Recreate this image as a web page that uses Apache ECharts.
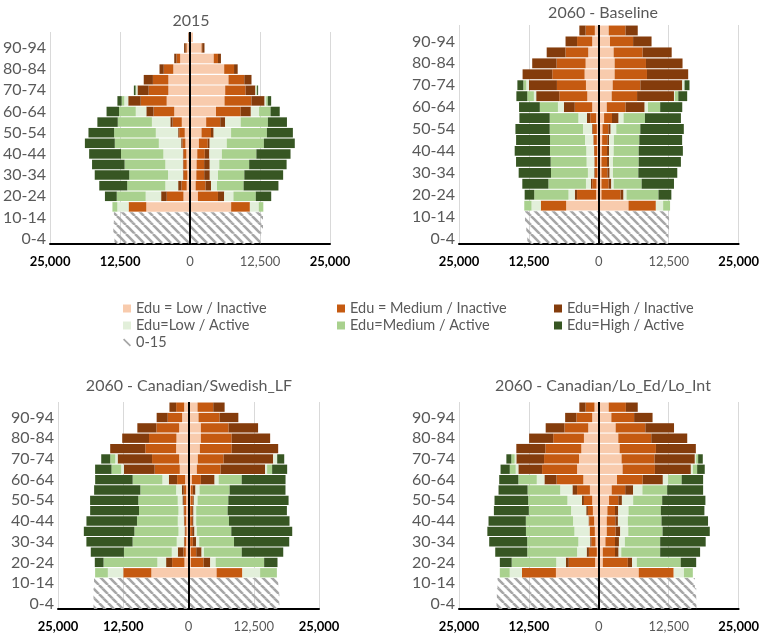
<!DOCTYPE html>
<html><head><meta charset="utf-8">
<script src="https://cdn.jsdelivr.net/npm/echarts@6/dist/echarts.min.js"></script>
<style>html,body{margin:0;padding:0;background:#fff}#c{width:762px;height:636px}</style>
</head><body><div id="c"></div>
<script>
// ---------- categories / labels ----------
const ages = ['0-4','5-9','10-14','15-19','20-24','25-29','30-34','35-39','40-44','45-49','50-54','55-59','60-64','65-69','70-74','75-79','80-84','85-89','90-94','95-99'];
const seriesNames = ['Edu = Low / Inactive','Edu = Medium / Inactive','Edu=High / Inactive','Edu=Low / Active','Edu=Medium / Active','Edu=High / Active'];
const hatchName = '0-15';
const titles = ['2015','2060 - Baseline','2060 - Canadian/Swedish_LF','2060 - Canadian/Lo_Ed/Lo_Int'];
const xTicks = [-25000,-12500,0,12500,25000];

// ---------- values: ages 15-19 ... 95-99 (L = left side, R = right side) ----------
// 2015
const p15_L_lowIn  = [7810,1170,590,470,590,650,820,940,1470,2820,4170,3870,3870,2990,1760,590,180];
const p15_L_medIn  = [3170,2990,940,700,590,530,530,1000,1640,3700,4640,3520,2760,1700,650,180,60];
const p15_L_highIn = [0,1000,590,120,120,120,230,180,410,1290,2230,2000,1640,760,410,290,60];
const p15_L_lowAc  = [2000,2760,2290,2640,3110,3460,3990,3990,3290,1880,700,230,0,0,0,0,0];
const p15_L_medAc  = [880,5170,6810,6930,7280,7570,7870,7450,6100,2990,470,120,0,0,0,0,0];
const p15_L_highAc = [0,2110,4990,6160,5810,5690,5340,4580,3640,2230,760,290,0,0,0,0,0];
const p15_R_lowIn  = [7340,1410,1000,1120,1170,1290,1580,2050,2880,4640,6160,6280,6870,6100,4230,2050,530];
const p15_R_medIn  = [3350,3580,1760,1410,1350,1350,1580,1700,2520,4400,4810,3640,2820,1760,760,120,0];
const p15_R_highIn = [0,1120,1000,1000,1000,820,350,470,880,1820,2350,1760,1290,650,530,410,0];
const p15_R_lowAc  = [1580,1640,1060,1470,1700,2230,3050,3110,2760,1470,290,180,0,0,0,0,0];
const p15_R_medAc  = [820,3990,4750,4700,5340,6160,6630,6400,4870,2050,290,120,0,0,0,0,0];
const p15_R_highAc = [0,2760,6220,6930,6690,6100,5520,4640,3400,1640,590,180,0,0,0,0,0];
const p15_L_u15 = [13500,13700,13600];
const p15_R_u15 = [12620,13030,13030];
// 2060 - Baseline
const pB_L_lowIn  = [5840,470,410,240,290,290,350,350,470,1180,2060,2300,2540,2360,1890,1180,710];
const pB_L_medIn  = [4540,3420,770,470,470,530,590,770,1060,3120,5010,5190,5780,5190,4070,2710,1650];
const pB_L_highIn = [0,410,240,120,60,60,60,120,590,1950,4130,5010,5310,4360,3360,2060,1120];
const pB_L_lowAc  = [1650,1120,880,1120,1360,1360,1470,1590,1530,1060,410,470,0,0,0,0,0];
const pB_L_medAc  = [1300,6130,6720,6600,6430,6490,6250,5950,5130,3240,1180,530,0,0,0,0,0];
const pB_L_highAc = [0,1710,4660,5780,6190,6310,6070,6130,5420,3710,1950,1060,0,0,0,0,0];
const pB_R_lowIn  = [5310,470,470,470,470,530,590,650,940,1420,2300,2480,2830,2830,2650,2000,1770];
const pB_R_medIn  = [4890,3420,1300,1060,1000,940,940,1060,1420,3360,4540,4950,5780,5600,5190,4130,3010];
const pB_R_highIn = [0,530,470,410,350,350,290,410,1180,3420,6600,7490,7370,6540,5190,3300,2180];
const pB_R_lowAc  = [1300,530,410,590,710,830,880,1000,880,590,180,410,0,0,0,0,0];
const pB_R_medAc  = [1240,5720,5010,4540,4600,4480,4540,4300,3830,2180,590,0,0,0,0,0,0];
const pB_R_highAc = [0,2300,5780,6960,7550,7900,7660,7780,6430,3950,1590,880,0,0,0,0,0];
const pB_L_u15 = [12790,12970,13200];
const pB_R_u15 = [12440,12560,12560];
// 2060 - Canadian/Swedish_LF
const pS_L_lowIn  = [7120,770,510,450,380,450,450,450,450,640,1670,1790,2370,2310,1790,1220,830];
const pS_L_medIn  = [5380,2370,450,320,250,320,380,450,450,1540,4810,5190,5900,5260,4360,2760,1540];
const pS_L_highIn = [0,1150,1090,130,130,130,130,260,380,1600,5900,6600,6730,5130,3650,2120,1280];
const pS_L_lowAc  = [2950,1670,1150,1350,1150,1150,960,900,1090,1220,510,450,0,0,0,0,0];
const pS_L_medAc  = [2440,10320,9170,8460,8460,7820,7560,7560,6860,5700,1860,960,0,0,0,0,0];
const pS_L_highAc = [0,1670,6350,8850,9680,9680,9360,9230,8850,7180,3140,1730,0,0,0,0,0];
const pS_R_lowIn  = [5380,450,450,320,320,320,320,380,450,640,1600,1790,2180,2370,2370,1920,1730];
const pS_R_medIn  = [4940,2440,1030,510,380,380,380,450,380,1730,4550,4940,6090,5900,5320,4040,3010];
const pS_R_highIn = [0,1280,1030,640,450,260,260,190,510,2630,8530,9490,8910,7370,5640,3590,2180];
const pS_R_lowAc  = [3400,1030,450,580,450,510,510,710,770,770,380,770,0,0,0,0,0];
const pS_R_medAc  = [3210,9290,7240,6670,6600,6280,6030,5900,5770,4420,960,0,0,0,0,0,0];
const pS_R_highAc = [0,2560,7950,10580,11670,11600,11350,11540,10700,8400,2880,1350,0,0,0,0,0];
const pS_L_u15 = [18200,18200,18100];
const pS_R_u15 = [17400,17400,17200];
// 2060 - Canadian/Lo_Ed/Lo_Int
const pE_L_lowIn  = [7670,650,350,590,710,830,1060,1180,1590,2770,3890,3540,3130,2660,1890,1180,770];
const pE_L_medIn  = [6080,4720,1420,770,940,890,890,1480,2300,4780,6250,6250,6430,5490,4250,2830,1590];
const pE_L_highIn = [0,530,410,180,0,120,300,350,830,2180,4250,4960,5190,4310,3360,2010,1120];
const pE_L_lowAc  = [2180,1710,1710,2120,2710,2770,2710,2600,2180,1360,470,300,0,0,0,0,0];
const pE_L_medAc  = [1770,7970,8910,9150,8670,8440,7550,7020,5840,3300,1060,590,0,0,0,0,0];
const pE_L_highAc = [0,2120,5720,6790,6900,6670,6250,6020,5190,3420,1650,890,0,0,0,0,0];
const pE_R_lowIn  = [7140,710,710,1180,1420,1420,1530,1830,2300,3250,4250,4070,3720,3480,3010,2240,1770];
const pE_R_medIn  = [6250,4480,2180,1710,1590,1530,1360,1650,2420,4600,5780,5900,6490,5900,5310,4070,3070];
const pE_R_highIn = [0,770,650,710,830,470,590,650,1420,3600,6430,7200,7140,6430,5130,3300,2120];
const pE_R_lowAc  = [1830,830,470,1060,1420,1770,1830,2010,1650,940,350,240,0,0,0,0,0];
const pE_R_medAc  = [1590,7850,6960,6310,6140,6020,5780,5190,4430,2420,770,350,0,0,0,0,0];
const pE_R_highAc = [0,2770,7140,8140,8440,8320,7790,7730,6430,3840,1360,830,0,0,0,0,0];
const pE_L_u15 = [18290,18230,18110];
const pE_R_u15 = [17460,17410,17170];

// ---------- assemble ----------
const panels = [
  {L:[p15_L_lowIn,p15_L_medIn,p15_L_highIn,p15_L_lowAc,p15_L_medAc,p15_L_highAc], R:[p15_R_lowIn,p15_R_medIn,p15_R_highIn,p15_R_lowAc,p15_R_medAc,p15_R_highAc], uL:p15_L_u15, uR:p15_R_u15},
  {L:[pB_L_lowIn,pB_L_medIn,pB_L_highIn,pB_L_lowAc,pB_L_medAc,pB_L_highAc], R:[pB_R_lowIn,pB_R_medIn,pB_R_highIn,pB_R_lowAc,pB_R_medAc,pB_R_highAc], uL:pB_L_u15, uR:pB_R_u15},
  {L:[pS_L_lowIn,pS_L_medIn,pS_L_highIn,pS_L_lowAc,pS_L_medAc,pS_L_highAc], R:[pS_R_lowIn,pS_R_medIn,pS_R_highIn,pS_R_lowAc,pS_R_medAc,pS_R_highAc], uL:pS_L_u15, uR:pS_R_u15},
  {L:[pE_L_lowIn,pE_L_medIn,pE_L_highIn,pE_L_lowAc,pE_L_medAc,pE_L_highAc], R:[pE_R_lowIn,pE_R_medIn,pE_R_highIn,pE_R_lowAc,pE_R_medAc,pE_R_highAc], uL:pE_L_u15, uR:pE_R_u15}
];
const colors = ['#F8CBAD','#C55A11','#843C0C','#E2EFDA','#A9D18E','#375623'];
const F = 'Lato, "Open Sans", sans-serif';
const gridPos = [
  {left:46, top:32, width:284, height:212},
  {left:459, top:25, width:283, height:219},
  {left:58, top:402, width:261, height:207},
  {left:459, top:402, width:283, height:207}
];
const titlePos = [{x:186,y:8},{x:598,y:0},{x:184,y:373},{x:598,y:373}];

// hatch pattern (diagonal "\" stripes)
const pc = document.createElement('canvas');
const T = 9; pc.width = T; pc.height = T;
const ctx = pc.getContext('2d');
ctx.strokeStyle = '#A6A6A6'; ctx.lineWidth = 2.6;
for (const k of [-T, 0, T]) { ctx.beginPath(); ctx.moveTo(k, 0); ctx.lineTo(k + T, T); ctx.stroke(); }
const hatch = {image: pc, repeat: 'repeat'};

function fmt(v){ return String(Math.abs(v)).replace(/\B(?=(\d{3})+(?!\d))/g, ','); }
function pad(arr, s){ return [null,null,null].concat(arr.map(v => v ? s*v : null)); }
function u15(arr, s){ return arr.map(v => s*v).concat(new Array(17).fill(null)); }

const grid = [], xAxis = [], yAxis = [], title = [], series = [];
panels.forEach((p, i) => {
  grid.push(Object.assign({containLabel:false}, gridPos[i]));
  title.push({text: titles[i], left: titlePos[i].x, top: titlePos[i].y, textAlign: 'center',
    textStyle: {fontFamily: F, fontSize: 16, fontWeight: 'normal', color: '#595959'}});
  xAxis.push({type:'value', gridIndex:i, min:xTicks[0], max:xTicks[4], interval:12500,
    axisLine:{show:true, onZero:false, lineStyle:{color:'#000', width:2}},
    axisTick:{show:false},
    splitLine:{show:true, lineStyle:{color:'#D9D9D9', width:1}},
    axisLabel:{showMinLabel:true, showMaxLabel:true, margin:11,
      formatter: v => (v === 0 || v === 12500) ? '{g|' + fmt(v) + '}' : '{b|' + fmt(v) + '}',
      rich:{g:{color:'#595959', fontSize:13, fontFamily:F}, b:{color:'#000', fontSize:13, fontWeight:'bold', fontFamily:F}}}
  });
  // main category axis (labels) and a hidden twin for the hatched 0-15 block
  yAxis.push({type:'category', gridIndex:i, data:ages,
    axisLine:{show:false}, axisTick:{show:false},
    axisLabel:{interval:1, margin:4, color:'#595959', fontSize:16, fontFamily:F}
  });
  yAxis.push({type:'category', gridIndex:i, data:ages, show:false});
  const st = 's' + i;
  [['L', -1], ['R', 1]].forEach(([side, s]) => {
    p[side].forEach((arr, k) => {
      series.push({type:'bar', name:seriesNames[k], xAxisIndex:i, yAxisIndex:2*i, stack:st, stackStrategy:'samesign',
        barCategoryGap:'10%', data:pad(arr, s), silent:true,
        itemStyle:{color:colors[k]}});
    });
    const ser = {type:'bar', name:hatchName, xAxisIndex:i, yAxisIndex:2*i+1, stack:'h'+i, stackStrategy:'samesign',
      barCategoryGap:'0%', data:u15(side === 'L' ? p.uL : p.uR, s), silent:true,
      itemStyle:{color:hatch}};
    if (side === 'R') {
      ser.markLine = {silent:true, symbol:'none', label:{show:false}, animation:false,
        lineStyle:{color:'#000', width:2, type:'solid'}, data:[{xAxis:0}]};
    }
    series.push(ser);
  });
});

const legText = {fontFamily:F, fontSize:14.5, color:'#595959'};
const legBase = {orient:'vertical', itemWidth:8, itemHeight:8, itemGap:2, icon:'rect', textStyle:legText, selectedMode:false, top:296};
const legend = [
  Object.assign({}, legBase, {left:118, data:[seriesNames[0], seriesNames[3],
    {name:hatchName, icon:'path://M0,1.5 L1.5,0 L10,8.5 L8.5,10 Z', itemStyle:{color:'#A6A6A6'}}]}),
  Object.assign({}, legBase, {left:332, data:[seriesNames[1], seriesNames[4]]}),
  Object.assign({}, legBase, {left:549, data:[seriesNames[2], seriesNames[5]]})
];

const chart = echarts.init(document.getElementById('c'), null, {renderer:'canvas'});
chart.setOption({animation:false, backgroundColor:'#fff', title, legend, grid, xAxis, yAxis, series});
</script>
</body></html>
